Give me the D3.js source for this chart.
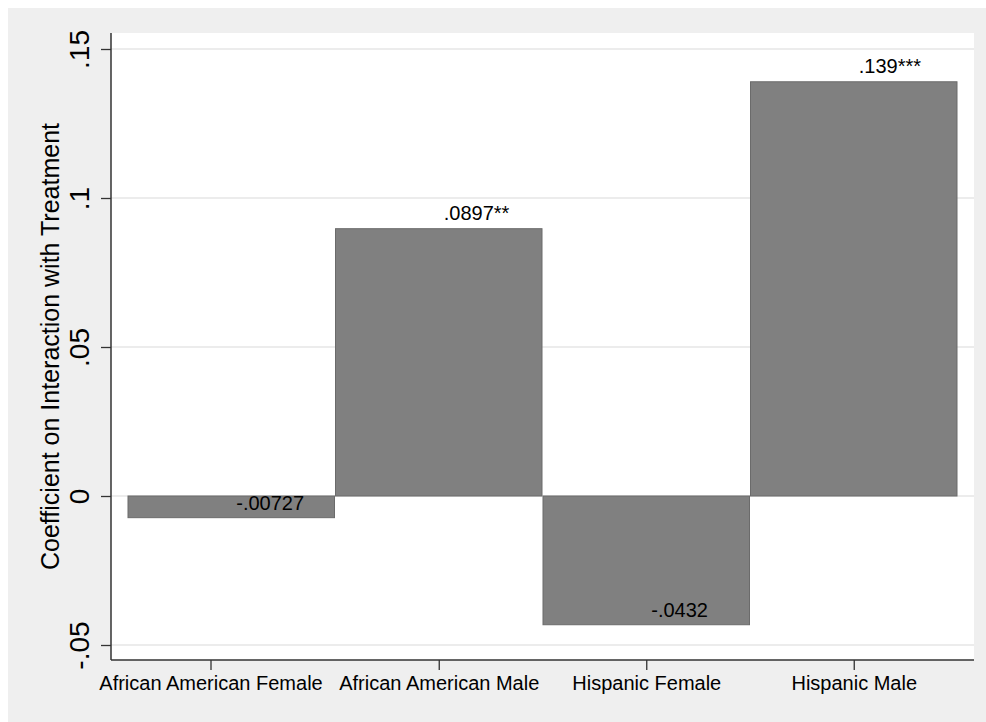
<!DOCTYPE html>
<html>
<head>
<meta charset="utf-8">
<script src="https://cdn.jsdelivr.net/npm/d3@7"></script>
<style>
  html, body { margin: 0; padding: 0; background: #ffffff; }
  svg { display: block; font-family: "Liberation Sans", Arial, Helvetica, sans-serif; }
</style>
</head>
<body>
<svg id="chart" width="986" height="722"></svg>
<script>
// Coefficients on the group x treatment interaction
const groups = ["African American Female", "African American Male", "Hispanic Female", "Hispanic Male"];
const coefficients = [-0.00727, 0.0897, -0.0432, 0.139];
const stars = ["", "**", "", "***"];
const valueText = ["-.00727", ".0897", "-.0432", ".139"];

// Category axis: bar i occupies [i, i+1]; ticks placed in the same units
const groupTicks = [0.4, 1.5, 2.5, 3.5];

// Value axis ticks and their labels
const yTicks = [-0.05, 0, 0.05, 0.1, 0.15];
const yTickLabels = ["-.05", "0", ".05", ".1", ".15"];

const yTitle = "Coefficient on Interaction with Treatment";

const svg = d3.select("#chart");

// Graph region background
svg.append("rect")
  .attr("x", 8).attr("y", 8)
  .attr("width", 978).attr("height", 714)
  .attr("fill", "#efefef");

// Plot region
const plot = { left: 111, right: 974, top: 33, bottom: 660 };
svg.append("rect")
  .attr("x", plot.left).attr("y", plot.top)
  .attr("width", plot.right - plot.left).attr("height", plot.bottom - plot.top)
  .attr("fill", "#ffffff");

const x = d3.scaleLinear().domain([0, groups.length]).range([127.5, 957.5]);
const y = d3.scaleLinear().domain([-0.05, 0.15]).range([645, 49]);

// Horizontal grid lines
svg.append("g")
  .selectAll("line")
  .data(yTicks)
  .join("line")
  .attr("x1", plot.left).attr("x2", plot.right)
  .attr("y1", d => y(d)).attr("y2", d => y(d))
  .attr("stroke", "#e6e6e6")
  .attr("stroke-width", 1.5);

// Bars
svg.append("g")
  .selectAll("rect")
  .data(coefficients)
  .join("rect")
  .attr("x", (d, i) => x(i) + 0.5)
  .attr("width", x(1) - x(0) - 1)
  .attr("y", d => y(Math.max(0, d)))
  .attr("height", d => Math.abs(y(d) - y(0)))
  .attr("fill", "#808080")
  .attr("stroke", "#6b6b6b")
  .attr("stroke-width", 1);

// Value labels: above positive bars, inside the lower end of negative bars
svg.append("g")
  .selectAll("text")
  .data(coefficients)
  .join("text")
  .attr("x", (d, i) => x(i + 0.5) + 5)
  .attr("y", d => d >= 0 ? y(d) - 9 : y(d) - 8)
  .attr("font-size", 20)
  .attr("fill", "#000")
  .text((d, i) => valueText[i] + stars[i]);

// Y axis
const yAxis = d3.axisLeft(y)
  .tickValues(yTicks)
  .tickFormat((d, i) => yTickLabels[i])
  .tickSize(10)
  .tickPadding(0);

const gy = svg.append("g")
  .attr("transform", `translate(${plot.left},0)`)
  .call(yAxis);
gy.select(".domain").remove();
gy.selectAll(".tick line").attr("stroke", "#333").attr("stroke-width", 1.3);
gy.selectAll(".tick text")
  .attr("font-size", 28)
  .attr("fill", "#000")
  .attr("text-anchor", "middle")
  .attr("x", null).attr("dy", null)
  .attr("transform", "translate(-22,0) rotate(-90)");
gy.append("line")
  .attr("x1", 0).attr("x2", 0)
  .attr("y1", plot.top).attr("y2", plot.bottom)
  .attr("stroke", "#333").attr("stroke-width", 1.5);

// X axis
const xAxis = d3.axisBottom(x)
  .tickValues(groupTicks)
  .tickFormat((d, i) => groups[i])
  .tickSize(10)
  .tickPadding(0);

const gx = svg.append("g")
  .attr("transform", `translate(0,${plot.bottom})`)
  .call(xAxis);
gx.select(".domain").remove();
gx.selectAll(".tick line").attr("stroke", "#333").attr("stroke-width", 1.3);
gx.selectAll(".tick text")
  .attr("font-size", 20)
  .attr("fill", "#000")
  .attr("y", 30)
  .attr("dy", null);
gx.append("line")
  .attr("x1", plot.left).attr("x2", plot.right)
  .attr("y1", 0).attr("y2", 0)
  .attr("stroke", "#333").attr("stroke-width", 1.5);

// Y axis title
svg.append("text")
  .attr("transform", `translate(59,${(plot.top + plot.bottom) / 2}) rotate(-90)`)
  .attr("text-anchor", "middle")
  .attr("font-size", 25)
  .attr("fill", "#000")
  .text(yTitle);
</script>
</body>
</html>
